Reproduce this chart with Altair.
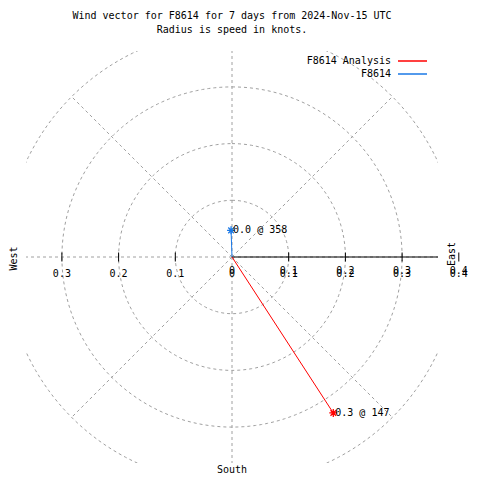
import altair as alt
import pandas as pd
import numpy as np

# ---------------- data ----------------
SERIES = ["F8614 Analysis", "F8614"]
SPEED = [0.328, 0.047]          # knots (radius)
DIRECTION = [147, 358]          # degrees
COLORS = ["#ff0000", "#1a78e6"]
RING_RADII = [0.1, 0.2, 0.3, 0.4]
SPOKE_ANGLES = [0, 45, 90, 135, 180, 225, 270, 315]
SPOKE_LEN = 0.4
RIGHT_TICKS = [0.1, 0.2, 0.3, 0.4]
RIGHT_LABELS = ["0", "0.1", "0.2", "0.3", "0.4"]
RIGHT_LABEL_POS = [0.0, 0.1, 0.2, 0.3, 0.4]
LEFT_TICKS = [0.1, 0.2, 0.3]
LEFT_LABELS = ["0.3", "0.2", "0.1"]
LEFT_LABEL_POS = [0.3, 0.2, 0.1]
TITLE_LINES = ["Wind vector for F8614 for 7 days from 2024-Nov-15 UTC",
               "Radius is speed in knots."]

# ---------------- layout helpers ----------------
UNIT = 567.0        # pixels per knot
CX, CY = 232, 258   # page position of the pole
LIM = 206 / UNIT    # plot half-size in data units
FONT = "DejaVu Sans Mono"
FS = 10
GRID = "#a0a0a0"


def dx(px):
    return (px - CX) / UNIT


def dy(py):
    return (CY - py) / UNIT


xs = alt.Scale(domain=[-LIM, LIM], nice=False, zero=False)
ys = alt.Scale(domain=[-LIM, LIM], nice=False, zero=False)
X = lambda f: alt.X(f, type="quantitative", scale=xs, axis=None)
Y = lambda f: alt.Y(f, type="quantitative", scale=ys, axis=None)

# grid rings
ring_rows = []
for r in RING_RADII:
    for i, t in enumerate(np.arange(0, 361, 2)):
        a = np.radians(t)
        ring_rows.append({"r": r, "i": i, "x": r * np.sin(a), "y": r * np.cos(a)})
rings = alt.Chart(pd.DataFrame(ring_rows)).mark_line(
    clip=True, color=GRID, strokeWidth=1, strokeDash=[3, 3]
).encode(x=X("x"), y=Y("y"), detail="r:N", order="i:Q")

# spokes
spk = pd.DataFrame({
    "x0": 0.0, "y0": 0.0,
    "x1": [SPOKE_LEN * np.sin(np.radians(a)) for a in SPOKE_ANGLES],
    "y1": [SPOKE_LEN * np.cos(np.radians(a)) for a in SPOKE_ANGLES],
})
spokes = alt.Chart(spk).mark_rule(
    clip=True, color=GRID, strokeWidth=1, strokeDash=[3, 3]
).encode(x=X("x0"), y=Y("y0"), x2="x1", y2="y1")

# radial axis line (black)
axis_line = alt.Chart(pd.DataFrame({"x0": [0.0], "x1": [LIM], "y0": [0.0]})).mark_rule(
    color="black", strokeWidth=1
).encode(x=X("x0"), x2="x1", y=Y("y0"))

tick_h = 4.5 / UNIT
tk = pd.DataFrame({"x": RIGHT_TICKS + [-t for t in LEFT_TICKS]})
tk["ya"] = -tick_h
tk["yb"] = tick_h
ticks = alt.Chart(tk).mark_rule(color="black", strokeWidth=1).encode(
    x=X("x"), y=Y("ya"), y2="yb")

# tick labels
lab_left = pd.DataFrame({"x": [-p for p in LEFT_LABEL_POS], "text": LEFT_LABELS, "y": dy(275)})
lab_r1 = pd.DataFrame({"x": RIGHT_LABEL_POS, "text": RIGHT_LABELS, "y": dy(272)})
lab_r2 = pd.DataFrame({"x": RIGHT_LABEL_POS, "text": RIGHT_LABELS, "y": dy(275)})
tick_labels = alt.Chart(pd.concat([lab_left, lab_r1, lab_r2])).mark_text(
    font=FONT, fontSize=FS, color="black", align="center", baseline="middle"
).encode(x=X("x"), y=Y("y"), text="text:N")

# vectors
vec = pd.DataFrame({"series": SERIES, "speed": SPEED, "dir": DIRECTION})
vec["x"] = vec["speed"] * np.sin(np.radians(vec["dir"]))
vec["y"] = vec["speed"] * np.cos(np.radians(vec["dir"]))
vec["x0"] = 0.0
vec["y0"] = 0.0
vec["label"] = [f"{s:.1f} @ {d}" for s, d in zip(SPEED, DIRECTION)]
color = alt.Color("series:N", scale=alt.Scale(domain=SERIES, range=COLORS), legend=None)

vectors = alt.Chart(vec).mark_rule(strokeWidth=1).encode(
    x=X("x0"), y=Y("y0"), x2="x", y2="y", color=color)
STAR = "M-1,0L1,0M0,-1L0,1M-0.7,-0.7L0.7,0.7M-0.7,0.7L0.7,-0.7"
stars = alt.Chart(vec).mark_point(shape=STAR, size=64, filled=False, strokeWidth=1.3,
                                  opacity=1).encode(
    x=X("x"), y=Y("y"), color=color)
vlabels = alt.Chart(vec).mark_text(
    font=FONT, fontSize=FS, color="black", align="left", baseline="middle", dx=2
).encode(x=X("x"), y=Y("y"), text="label:N")

# legend
leg = pd.DataFrame({"series": SERIES, "y": [dy(62), dy(75)]})
leg["xt"] = dx(391)
leg["xa"] = dx(398)
leg["xb"] = dx(427)
leg_text = alt.Chart(leg).mark_text(
    font=FONT, fontSize=FS, color="black", align="right", baseline="middle"
).encode(x=X("xt"), y=Y("y"), text="series:N")
leg_line = alt.Chart(leg).mark_rule(strokeWidth=1.5).encode(
    x=X("xa"), x2="xb", y=Y("y"), color=color)

# titles and compass labels
ttl = pd.DataFrame({"text": TITLE_LINES, "x": dx(232), "y": [dy(17), dy(31)]})
titles = alt.Chart(ttl).mark_text(
    font=FONT, fontSize=FS, color="black", align="center", baseline="middle"
).encode(x=X("x"), y=Y("y"), text="text:N")

south = alt.Chart(pd.DataFrame({"text": ["South"], "x": [dx(232)], "y": [dy(471)]})).mark_text(
    font=FONT, fontSize=FS, color="black", align="center", baseline="middle"
).encode(x=X("x"), y=Y("y"), text="text:N")
rot = alt.Chart(pd.DataFrame({"text": ["West", "East"], "x": [dx(14), dx(452)],
                              "y": [dy(259.5), dy(255)]})).mark_text(
    font=FONT, fontSize=FS, color="black", align="center", baseline="middle", angle=270
).encode(x=X("x"), y=Y("y"), text="text:N")

chart = alt.layer(
    rings, spokes, axis_line, ticks, tick_labels, vectors, stars, vlabels,
    leg_text, leg_line, titles, south, rot
).properties(
    width=412, height=412,
    autosize=alt.AutoSizeParams(type="none"),
    padding={"left": 18, "top": 43, "right": 34, "bottom": 17},
).configure(background="white", view=alt.ViewConfig(stroke=None))

chart.save("out.html", embed_options={"renderer": "svg", "actions": False})
